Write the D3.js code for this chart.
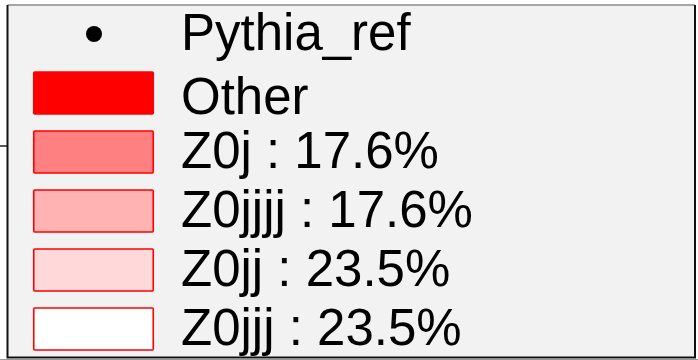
<!DOCTYPE html>
<html>
<head>
<meta charset="utf-8">
<script src="https://cdn.jsdelivr.net/npm/d3@7"></script>
<style>
  html, body { margin: 0; padding: 0; background: #ffffff; }
  svg { display: block; }
</style>
</head>
<body>
<svg id="chart" width="698" height="360"></svg>
<script>
// Legend entries: the reference marker, the residual category and the shares per decay channel
const markerLabel = "Pythia_ref";
const categories = ["Other", "Z0j", "Z0jjjj", "Z0jj", "Z0jjj"];
const shares = [null, 17.6, 17.6, 23.5, 23.5];
const fillColors = ["#ff0000", "#ff8080", "#ffb3b3", "#ffd9d9", "#ffffff"];

const svg = d3.select("#chart");
const font = "'Liberation Sans', Arial, Helvetica, sans-serif";
const fontSize = 51;

// Ink extents of a label, used to centre the glyphs vertically on their row
const ctx = document.createElement("canvas").getContext("2d");
ctx.font = `${fontSize}px ${font}`;
function inkBaseline(label, center) {
  const m = ctx.measureText(label);
  return center + 2.5 + (m.actualBoundingBoxAscent - m.actualBoundingBoxDescent) / 2;
}

// Partially visible axis line behind the legend
svg.append("line")
  .attr("x1", 0).attr("x2", 10)
  .attr("y1", 146).attr("y2", 146)
  .attr("stroke", "#222").attr("stroke-width", 1.5);

// Legend frame
const fx0 = 7.5, fx1 = 695, fy0 = 5, fy1 = 357.5;
svg.append("rect")
  .attr("x", fx0).attr("y", fy0)
  .attr("width", fx1 - fx0).attr("height", fy1 - fy0)
  .attr("fill", "#f2f2f2");
svg.append("line")
  .attr("x1", fx0).attr("x2", fx1).attr("y1", fy0).attr("y2", fy0)
  .attr("stroke", "#8a8a8a").attr("stroke-width", 1.5);
svg.append("line")
  .attr("x1", 0).attr("x2", 698).attr("y1", 359.5).attr("y2", 359.5)
  .attr("stroke", "#9a9a9a").attr("stroke-width", 1);
svg.append("path")
  .attr("d", `M${fx0},${fy0} V${fy1} H${fx1} V${fy0}`)
  .attr("fill", "none")
  .attr("stroke", "#111").attr("stroke-width", 2);

const rows = [markerLabel].concat(categories);
const y = d3.scalePoint().domain(rows).range([34, 329]);

const swatchX = 33, swatchW = 121, swatchH = 42;
const textX = 181;

// Marker entry
svg.append("circle")
  .attr("cx", 94).attr("cy", y(markerLabel))
  .attr("r", 8).attr("fill", "#000");

svg.append("text")
  .attr("x", textX).attr("y", inkBaseline(markerLabel, y(markerLabel)))
  .attr("font-family", font).attr("font-size", fontSize)
  .attr("fill", "#000")
  .text(markerLabel);

// Fill entries
const entries = categories.map((c, i) => ({
  name: c,
  label: shares[i] == null ? c : `${c} : ${shares[i].toFixed(1)}%`,
  fill: fillColors[i]
}));

const g = svg.selectAll("g.entry")
  .data(entries)
  .join("g")
  .attr("class", "entry");

g.append("rect")
  .attr("x", swatchX + 0.75)
  .attr("y", d => y(d.name) - swatchH / 2)
  .attr("width", swatchW - 1.5)
  .attr("height", swatchH)
  .attr("rx", 1)
  .attr("fill", d => d.fill)
  .attr("stroke", "#ff0000")
  .attr("stroke-width", 1.6);

g.append("text")
  .attr("x", textX)
  .attr("y", d => inkBaseline(d.label, y(d.name)))
  .attr("font-family", font)
  .attr("font-size", fontSize)
  .attr("fill", "#000")
  .text(d => d.label);
</script>
</body>
</html>
